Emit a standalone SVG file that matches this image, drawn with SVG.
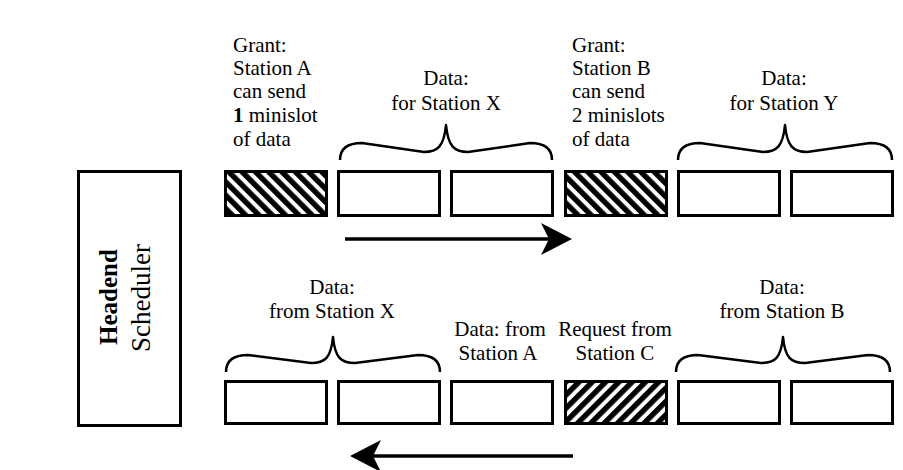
<svg xmlns="http://www.w3.org/2000/svg" width="903" height="470" viewBox="0 0 903 470">
<style>
text{font-family:"Liberation Serif","Times New Roman",serif;font-size:21px;fill:#000}
.c{text-anchor:middle}
.slot{fill:#fff;stroke:#000;stroke-width:3}
.brace{fill:none;stroke:#000;stroke-width:2.5;stroke-linejoin:round}
.arrow{stroke:#000;stroke-width:3.5;fill:none}
</style>
<defs>
<pattern id="hatchDown" patternUnits="userSpaceOnUse" width="9.4" height="9.4" patternTransform="rotate(-45)">
<rect x="0" y="0" width="9.4" height="9.4" fill="#fff"/>
<rect x="0" y="0" width="5.4" height="9.4" fill="#000"/>
</pattern>
<pattern id="hatchUp" patternUnits="userSpaceOnUse" width="9.4" height="9.4" patternTransform="rotate(45)">
<rect x="0" y="0" width="9.4" height="9.4" fill="#fff"/>
<rect x="0" y="0" width="5.4" height="9.4" fill="#000"/>
</pattern>
<marker id="head" markerUnits="userSpaceOnUse" markerWidth="32" markerHeight="34" viewBox="0 -17 32 34" refX="14" refY="0" orient="auto">
<path d="M0,-16 L31,0 L0,16 L8,0 Z" fill="#000"/>
</marker>
</defs>
<rect width="903" height="470" fill="#fff"/>

<g id="headend-scheduler">
<rect class="slot" x="78.5" y="171.5" width="102" height="254"/>
<text class="c" transform="translate(117,297) rotate(-90)" style="font-weight:bold;font-size:25px">Headend</text>
<text class="c" transform="translate(150,298) rotate(-90)" style="font-size:27px">Scheduler</text>
</g>

<g id="downstream">
<g id="grant-a">
<rect x="225.5" y="171.5" width="101" height="44" fill="url(#hatchDown)" stroke="#000" stroke-width="3"/>
<text x="233" y="52">Grant:</text>
<text x="233" y="75">Station A</text>
<text x="233" y="98">can send</text>
<text x="233" y="122"><tspan font-weight="bold">1</tspan> minislot</text>
<text x="233" y="146">of data</text>
</g>
<g id="data-x">
<rect class="slot" x="338.5" y="171.5" width="101" height="44"/>
<rect class="slot" x="451.5" y="171.5" width="101" height="44"/>
<path class="brace" d="M340,160 C340,148 348,143 362,143 L424,152 C438,152 444,146 446,125 C448,146 454,152 468,152 L530,143 C544,143 552,148 552,160"/>
<text class="c" x="446" y="85">Data:</text>
<text class="c" x="446" y="110">for Station X</text>
</g>
<g id="grant-b">
<rect x="565.5" y="171.5" width="101" height="44" fill="url(#hatchDown)" stroke="#000" stroke-width="3"/>
<text x="572" y="52">Grant:</text>
<text x="572" y="75">Station B</text>
<text x="572" y="98">can send</text>
<text x="572" y="122">2 minislots</text>
<text x="572" y="146">of data</text>
</g>
<g id="data-y">
<rect class="slot" x="678.5" y="171.5" width="101" height="44"/>
<rect class="slot" x="791.5" y="171.5" width="101" height="44"/>
<path class="brace" d="M678,160 C678,148 686,143 700,143 L763,152 C777,152 783,146 785,125 C787,146 793,152 807,152 L870,143 C884,143 892,148 892,160"/>
<text class="c" x="784" y="85">Data:</text>
<text class="c" x="784" y="110">for Station Y</text>
</g>
</g>

<g id="upstream">
<g id="data-from-x">
<rect class="slot" x="225.5" y="381.5" width="101" height="42"/>
<rect class="slot" x="338.5" y="381.5" width="101" height="42"/>
<path class="brace" d="M226,372 C226,360 234,355 248,355 L311,363 C325,363 331,358 333,337 C335,358 341,363 355,363 L418,355 C432,355 440,360 440,372"/>
<text class="c" x="332" y="294">Data:</text>
<text class="c" x="332" y="318">from Station X</text>
</g>
<g id="data-from-a">
<rect class="slot" x="451.5" y="381.5" width="101" height="42"/>
<text class="c" x="500" y="336">Data: from</text>
<text class="c" x="498" y="360">Station A</text>
</g>
<g id="request-c">
<rect x="565.5" y="381.5" width="101" height="42" fill="url(#hatchUp)" stroke="#000" stroke-width="3"/>
<text class="c" x="615" y="336">Request from</text>
<text class="c" x="615" y="360">Station C</text>
</g>
<g id="data-from-b">
<rect class="slot" x="678.5" y="381.5" width="101" height="42"/>
<rect class="slot" x="791.5" y="381.5" width="101" height="42"/>
<path class="brace" d="M676,372 C676,360 684,355 698,355 L761,363 C775,363 781,358 783,337 C785,358 791,363 805,363 L868,355 C882,355 890,360 890,372"/>
<text class="c" x="782" y="294">Data:</text>
<text class="c" x="782" y="318">from Station B</text>
</g>
</g>

<g id="connectors">
<line class="arrow" x1="345" y1="239" x2="555" y2="239" marker-end="url(#head)"/>
<line class="arrow" x1="573" y1="456" x2="367" y2="456" marker-end="url(#head)"/>
</g>
</svg>
